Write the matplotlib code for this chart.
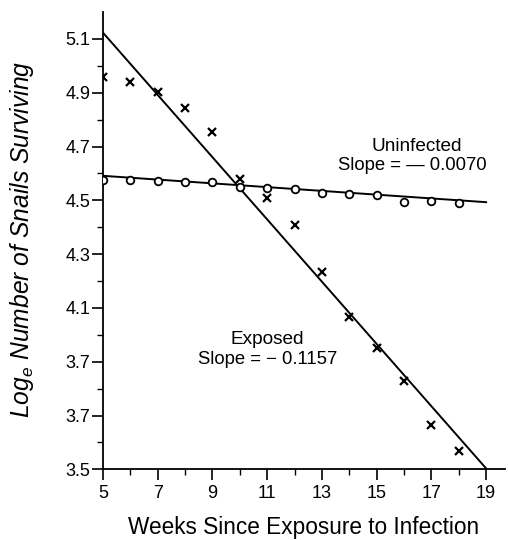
import numpy as np
from matplotlib import pyplot as plt

# weeks since exposure
weeks = [5, 6, 7, 8, 9, 10, 11, 12, 13, 14, 15, 16, 17, 18]

# log_e number of snails surviving
exposed = [4.96, 4.94, 4.904, 4.842, 4.753, 4.579, 4.507, 4.408, 4.235, 4.067, 3.950, 3.829, 3.665, 3.569]
uninfected = [4.575, 4.575, 4.573, 4.567, 4.567, 4.548, 4.545, 4.543, 4.528, 4.522, 4.520, 4.495, 4.497, 4.489]

# fitted regression lines (start value at week 5, slope)
fit_weeks = [5, 19]
exposed_start, exposed_slope = 5.123, -0.1157
uninfected_start, uninfected_slope = 4.591, -0.0070

y_ticks = [3.5, 3.7, 3.9, 4.1, 4.3, 4.5, 4.7, 4.9, 5.1]
y_tick_labels = ["3.5", "3.7", "3.7", "4.1", "4.3", "4.5", "4.7", "4.9", "5.1"]
x_ticks = [5, 7, 9, 11, 13, 15, 17, 19]

plt.rcParams["font.family"] = ["Liberation Sans", "DejaVu Sans"]
plt.rcParams["mathtext.fontset"] = "custom"
plt.rcParams["mathtext.rm"] = "Liberation Sans:italic"
plt.rcParams["mathtext.it"] = "Liberation Sans:italic"

fig = plt.figure(figsize=(5.08, 5.4), dpi=100)
ax = fig.add_axes([103 / 508, 70.7 / 540, 402 / 508, 457.3 / 540])

fx = np.array(fit_weeks, dtype=float)
ax.plot(fx, exposed_start + exposed_slope * (fx - 5), color="black", lw=1.4, zorder=2)
ax.plot(fx, uninfected_start + uninfected_slope * (fx - 5), color="black", lw=1.4, zorder=2)

ax.plot(weeks, exposed, ls="none", marker="x", color="black", ms=5.5, mew=1.6, zorder=3)
ax.plot(weeks, uninfected, ls="none", marker="o", mfc="white", mec="black", ms=5.5, mew=1.3, zorder=3)

ax.set_xlim(5, 19.69)
ax.set_ylim(3.5, 5.2)

ax.set_xticks(x_ticks)
ax.set_xticks(range(6, 19, 2), minor=True)
ax.set_yticks(y_ticks)
ax.set_yticklabels(y_tick_labels)
ax.set_yticks(np.arange(3.6, 5.1, 0.2), minor=True)

for side in ["top", "right"]:
    ax.spines[side].set_visible(False)
for side in ["left", "bottom"]:
    ax.spines[side].set_linewidth(1.3)

ax.tick_params(which="major", direction="out", length=8, width=1.2, labelsize=13, colors="black")
ax.tick_params(which="minor", direction="out", length=4.5, width=1.0)
ax.tick_params(axis="y", pad=1)
ax.tick_params(axis="x", pad=3)

ax.text(16.47, 4.699, "Uninfected", ha="center", va="center", fontsize=13.7)
ax.text(16.3, 4.631, "Slope = \u2014 0.0070", ha="center", va="center", fontsize=13.3)
ax.text(11.0, 3.981, "Exposed", ha="center", va="center", fontsize=13.7)
ax.text(11.0, 3.907, "Slope = \u2212 0.1157", ha="center", va="center", fontsize=13.3)

fig.text(0.598, 0.024, "Weeks Since Exposure to Infection", ha="center", va="center", fontsize=16.3)
fig.text(0.043, 0.557, "Log$_e$ Number of Snails Surviving", ha="center", va="center",
         rotation=90, fontsize=17.7, style="italic")

fig.savefig("out.png", dpi=100)
